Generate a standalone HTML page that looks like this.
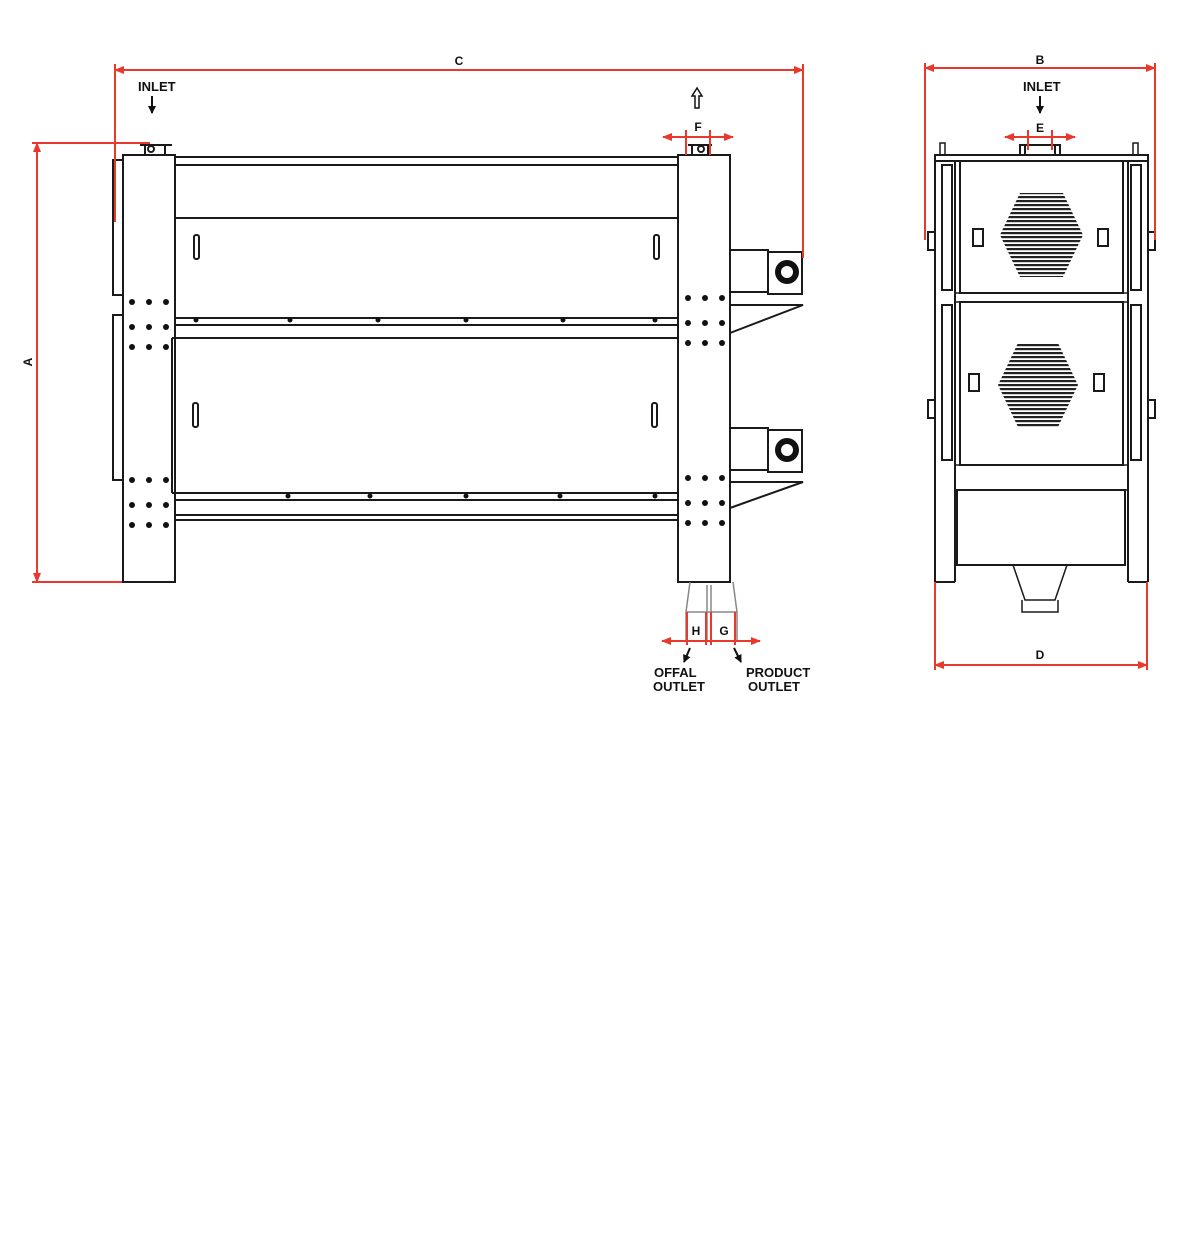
<!DOCTYPE html>
<html><head><style>
html,body{margin:0;padding:0;background:#fff;}
svg{display:block}
text{font-family:"Liberation Sans",sans-serif;font-weight:bold;fill:#111}
</style></head><body>
<svg width="1177" height="1246" viewBox="0 0 1177 1246" xmlns="http://www.w3.org/2000/svg">
<defs>
<pattern id="hatch" width="4" height="4" patternUnits="userSpaceOnUse"><rect width="4" height="2.2" fill="#222"/></pattern>
<marker id="ar" markerWidth="10" markerHeight="8" refX="9" refY="4" orient="auto-start-reverse" markerUnits="userSpaceOnUse"><path d="M0,0 L10,4 L0,8 z" fill="#e8392c"/></marker>
<marker id="ak" markerWidth="8" markerHeight="8" refX="7" refY="4" orient="auto" markerUnits="userSpaceOnUse"><path d="M0,0 L8,4 L0,8 z" fill="#111"/></marker>
</defs>
<g fill="none" stroke="#1a1a1a" stroke-width="2">
<rect x="113" y="160" width="10" height="135"/>
<rect x="113" y="315" width="10" height="165"/>
<rect x="123" y="155" width="52" height="427"/>
<rect x="678" y="155" width="52" height="427"/>
<path d="M175 157 H678 M175 165 H678 M175 218 H678 M175 318 H678 M175 325 H678 M172 338 H678 M172 493 H678 M175 500 H678 M175 515 H678 M175 520 H678"/>
<path d="M172 338 V493"/>
<rect x="194" y="235" width="5" height="24" rx="2"/>
<rect x="654" y="235" width="5" height="24" rx="2"/>
<rect x="193" y="403" width="5" height="24" rx="2"/>
<rect x="652" y="403" width="5" height="24" rx="2"/>
<path d="M140 145 H172 M145 145 V155 M165 145 V155"/>
<circle cx="151" cy="149" r="3"/>
<path d="M688 145 H712 M692 145 V155 M708 145 V155"/>
<circle cx="701" cy="149" r="3"/>
<rect x="730" y="250" width="38" height="42"/>
<rect x="768" y="252" width="34" height="42"/>
<path d="M730 305 H803 L730 333"/>
<rect x="730" y="428" width="38" height="42"/>
<rect x="768" y="430" width="34" height="42"/>
<path d="M730 482 H803 L730 508"/>
<path d="M690 582 L686 612 H737 L733 582 M686 612 V640 M737 612 V640 M707 585 V640 M711 585 V640" stroke="#888" stroke-width="1.5"/>
<rect x="935" y="155" width="213" height="6"/>
<path d="M935 161 V582 M955 161 V582 M1128 161 V582 M1148 161 V582 M935 582 H955 M1128 582 H1148"/>
<rect x="942" y="165" width="10" height="125"/><rect x="1131" y="165" width="10" height="125"/>
<rect x="942" y="305" width="10" height="155"/><rect x="1131" y="305" width="10" height="155"/>
<rect x="960" y="161" width="163" height="132"/>
<rect x="955" y="293" width="173" height="9" stroke-width="1.5"/>
<rect x="960" y="302" width="163" height="163"/>
<rect x="955" y="465" width="173" height="25" stroke-width="1.5"/>
<rect x="957" y="490" width="168" height="75"/>
<path d="M1013 565 L1025 600 H1055 L1067 565 M1022 600 V612 H1058 V600" stroke-width="1.5"/>
<path d="M1020 155 V145 H1060 V155 M1025 145 V155 M1055 145 V155" />
<path d="M940 155 V143 H945 V155 M1133 155 V143 H1138 V155" stroke-width="1.5"/>
<path d="M935 232 H928 V250 H935 M935 400 H928 V418 H935 M1148 232 H1155 V250 H1148 M1148 400 H1155 V418 H1148"/>
<rect x="973" y="229" width="10" height="17"/><rect x="1098" y="229" width="10" height="17"/>
<rect x="969" y="374" width="10" height="17"/><rect x="1094" y="374" width="10" height="17"/>
</g>
<polygon points="1020,193 1063,193 1083,235 1063,277 1020,277 1000,235" fill="url(#hatch)"/>
<polygon points="1018,343 1058,343 1078,385 1058,427 1018,427 998,385" fill="url(#hatch)"/>
<g fill="#111">
<circle cx="787" cy="272" r="12"/><circle cx="787" cy="450" r="12"/>
<circle cx="787" cy="272" r="6" fill="#fff"/><circle cx="787" cy="450" r="6" fill="#fff"/>
</g>
<g fill="#111">
<g id="d1"><circle cx="132" cy="302" r="3"/><circle cx="149" cy="302" r="3"/><circle cx="166" cy="302" r="3"/>
<circle cx="132" cy="327" r="3"/><circle cx="149" cy="327" r="3"/><circle cx="166" cy="327" r="3"/>
<circle cx="132" cy="347" r="3"/><circle cx="149" cy="347" r="3"/><circle cx="166" cy="347" r="3"/></g>
<use href="#d1" y="178"/><use href="#d1" x="556" y="-4"/><use href="#d1" x="556" y="176"/>
<circle cx="196" cy="320" r="2.5"/><circle cx="290" cy="320" r="2.5"/><circle cx="378" cy="320" r="2.5"/><circle cx="466" cy="320" r="2.5"/><circle cx="563" cy="320" r="2.5"/><circle cx="655" cy="320" r="2.5"/>
<circle cx="288" cy="496" r="2.5"/><circle cx="370" cy="496" r="2.5"/><circle cx="466" cy="496" r="2.5"/><circle cx="560" cy="496" r="2.5"/><circle cx="655" cy="496" r="2.5"/>
</g>
<g stroke="#e8392c" stroke-width="2" fill="none">
<line x1="115" y1="70" x2="803" y2="70" marker-start="url(#ar)" marker-end="url(#ar)"/>
<path d="M115 64 V222 M803 64 V258"/>
<line x1="37" y1="143" x2="37" y2="582" marker-start="url(#ar)" marker-end="url(#ar)"/>
<path d="M32 143 H150 M32 582 H122"/>
<line x1="663" y1="137" x2="733" y2="137" marker-start="url(#ar)" marker-end="url(#ar)"/>
<path d="M686 130 V155 M710 130 V155"/>
<line x1="662" y1="641" x2="760" y2="641" marker-start="url(#ar)" marker-end="url(#ar)"/>
<path d="M687 612 V645 M706 612 V645 M711 612 V645 M735 612 V645"/>
<line x1="925" y1="68" x2="1155" y2="68" marker-start="url(#ar)" marker-end="url(#ar)"/>
<path d="M925 63 V240 M1155 63 V240"/>
<line x1="1005" y1="137" x2="1075" y2="137" marker-start="url(#ar)" marker-end="url(#ar)"/>
<path d="M1028 130 V150 M1052 130 V150"/>
<line x1="935" y1="665" x2="1147" y2="665" marker-start="url(#ar)" marker-end="url(#ar)"/>
<path d="M935 582 V670 M1147 582 V670"/>
</g>
<g stroke="#111" stroke-width="2" fill="none">
<line x1="152" y1="96" x2="152" y2="113" marker-end="url(#ak)"/>
<line x1="1040" y1="96" x2="1040" y2="113" marker-end="url(#ak)"/>
<line x1="690" y1="648" x2="684" y2="662" marker-end="url(#ak)"/>
<line x1="734" y1="648" x2="741" y2="662" marker-end="url(#ak)"/>
<path d="M695 108 V96 H692 L697 88 L702 96 H699 V108 Z" stroke-width="1.5"/>
</g>
<g font-size="13">
<text x="138" y="91">INLET</text>
<text x="1023" y="91">INLET</text>
<text x="654" y="677">OFFAL</text><text x="653" y="691">OUTLET</text>
<text x="746" y="677">PRODUCT</text><text x="748" y="691">OUTLET</text>
</g>
<g font-size="12" font-weight="normal" text-anchor="middle">
<text x="459" y="65">C</text>
<text x="1040" y="64">B</text>
<text x="698" y="131">F</text>
<text x="1040" y="132">E</text>
<text x="696" y="635">H</text>
<text x="724" y="635">G</text>
<text x="1040" y="659">D</text>
<text x="28" y="362" transform="rotate(-90 28 362)" dy="4">A</text>
</g>
</svg>
</body></html>
